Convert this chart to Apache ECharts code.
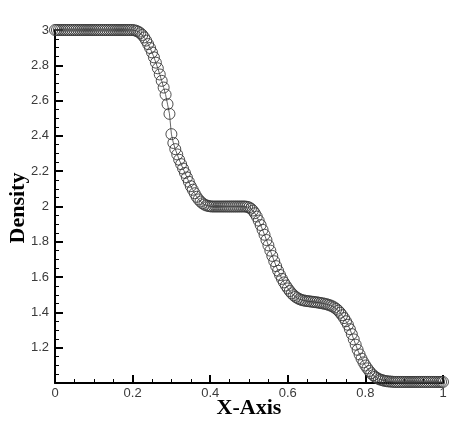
<!DOCTYPE html>
<html>
<head>
<meta charset="utf-8">
<script src="https://cdn.jsdelivr.net/npm/echarts@6/dist/echarts.min.js"></script>
<style>
  html, body { margin: 0; padding: 0; background: #fff; }
  #chart { width: 450px; height: 423px; }
</style>
</head>
<body>
<div id="chart"></div>
<script>
// Grid node positions along the tube
const xPositions = [
  0, 0.005, 0.01, 0.015, 0.02, 0.025, 0.03, 0.035, 0.04, 0.045,
  0.05, 0.055, 0.06, 0.065, 0.07, 0.075, 0.08, 0.085, 0.09, 0.095,
  0.1, 0.105, 0.11, 0.115, 0.12, 0.125, 0.13, 0.135, 0.14, 0.145,
  0.15, 0.155, 0.16, 0.165, 0.17, 0.175, 0.18, 0.185, 0.19, 0.195,
  0.2, 0.205, 0.21, 0.215, 0.22, 0.225, 0.23, 0.235, 0.24, 0.245,
  0.25, 0.255, 0.26, 0.265, 0.27, 0.275, 0.28, 0.285, 0.29, 0.295,
  0.3, 0.305, 0.31, 0.315, 0.32, 0.325, 0.33, 0.335, 0.34, 0.345,
  0.35, 0.355, 0.36, 0.365, 0.37, 0.375, 0.38, 0.385, 0.39, 0.395,
  0.4, 0.405, 0.41, 0.415, 0.42, 0.425, 0.43, 0.435, 0.44, 0.445,
  0.45, 0.455, 0.46, 0.465, 0.47, 0.475, 0.48, 0.485, 0.49, 0.495,
  0.5, 0.505, 0.51, 0.515, 0.52, 0.525, 0.53, 0.535, 0.54, 0.545,
  0.55, 0.555, 0.56, 0.565, 0.57, 0.575, 0.58, 0.585, 0.59, 0.595,
  0.6, 0.605, 0.61, 0.615, 0.62, 0.625, 0.63, 0.635, 0.64, 0.645,
  0.65, 0.655, 0.66, 0.665, 0.67, 0.675, 0.68, 0.685, 0.69, 0.695,
  0.7, 0.705, 0.71, 0.715, 0.72, 0.725, 0.73, 0.735, 0.74, 0.745,
  0.75, 0.755, 0.76, 0.765, 0.77, 0.775, 0.78, 0.785, 0.79, 0.795,
  0.8, 0.805, 0.81, 0.815, 0.82, 0.825, 0.83, 0.835, 0.84, 0.845,
  0.85, 0.855, 0.86, 0.865, 0.87, 0.875, 0.88, 0.885, 0.89, 0.895,
  0.9, 0.905, 0.91, 0.915, 0.92, 0.925, 0.93, 0.935, 0.94, 0.945,
  0.95, 0.955, 0.96, 0.965, 0.97, 0.975, 0.98, 0.985, 0.99, 0.995,
  1
];

// Density at each node
const density = [
  3, 3, 3, 3, 3, 3, 3, 3, 3, 3,
  3, 3, 3, 3, 3, 3, 3, 3, 3, 3,
  3, 3, 3, 3, 3, 3, 3, 3, 3, 3,
  3, 3, 3, 3, 3, 3, 3, 3, 3, 3,
  3, 2.998, 2.995, 2.99, 2.982, 2.972, 2.958, 2.94, 2.92, 2.898,
  2.873, 2.845, 2.815, 2.783, 2.748, 2.712, 2.674, 2.634, 2.58, 2.525,
  2.41, 2.36, 2.325, 2.295, 2.265, 2.24, 2.215, 2.19, 2.165, 2.14,
  2.115, 2.095, 2.075, 2.055, 2.04, 2.028, 2.018, 2.011, 2.006, 2.003,
  2.001, 2, 2, 2, 2, 2, 2, 2, 2, 2,
  2, 2, 2, 2, 2, 2, 2, 2, 2, 1.998,
  1.995, 1.988, 1.977, 1.962, 1.943, 1.92, 1.895, 1.868, 1.84, 1.81,
  1.78, 1.75, 1.72, 1.69, 1.662, 1.636, 1.612, 1.59, 1.57, 1.552,
  1.536, 1.521, 1.508, 1.497, 1.488, 1.481, 1.475, 1.471, 1.468, 1.466,
  1.464, 1.463, 1.461, 1.46, 1.458, 1.457, 1.455, 1.453, 1.451, 1.449,
  1.446, 1.443, 1.439, 1.434, 1.428, 1.42, 1.41, 1.398, 1.384, 1.368,
  1.35, 1.33, 1.305, 1.277, 1.247, 1.217, 1.188, 1.162, 1.138, 1.117,
  1.099, 1.083, 1.068, 1.055, 1.044, 1.035, 1.028, 1.022, 1.018, 1.015,
  1.012, 1.01, 1.009, 1.008, 1.007, 1.006, 1.006, 1.006, 1.006, 1.006,
  1.006, 1.006, 1.006, 1.006, 1.006, 1.006, 1.006, 1.006, 1.006, 1.006,
  1.006, 1.006, 1.006, 1.006, 1.006, 1.006, 1.006, 1.006, 1.006, 1.006,
  1.006
];

const xTicks = [0, 0.2, 0.4, 0.6, 0.8, 1];
const yTicks = [1.2, 1.4, 1.6, 1.8, 2, 2.2, 2.4, 2.6, 2.8, 3];
const xTitle = 'X-Axis';
const yTitle = 'Density';

const points = xPositions.map((x, i) => [x, density[i]]);

const tickFont = { fontFamily: 'Liberation Sans, Arial, sans-serif', fontSize: 13, color: '#3a3a3a' };
const titleFontFamily = 'Liberation Serif, Times New Roman, serif';

const chart = echarts.init(document.getElementById('chart'), null, { renderer: 'canvas' });
chart.setOption({
  animation: false,
  backgroundColor: '#fff',
  grid: { left: 55, top: 30, width: 388, height: 353, containLabel: false, outerBoundsMode: 'none' },
  xAxis: {
    type: 'value',
    min: xTicks[0],
    max: xTicks[xTicks.length - 1],
    interval: 0.2,
    axisLine: { show: true, onZero: false, lineStyle: { color: '#000', width: 2 } },
    axisTick: { show: true, inside: true, length: 8, lineStyle: { color: '#000', width: 2 } },
    minorTick: { show: true, splitNumber: 4, length: 4, lineStyle: { color: '#000', width: 1 } },
    splitLine: { show: false },
    axisLabel: Object.assign({ margin: 4, formatter: v => xTicks.includes(+v.toFixed(3)) ? String(+v.toFixed(3)) : '' }, tickFont)
  },
  yAxis: {
    type: 'value',
    min: 1,
    max: yTicks[yTicks.length - 1],
    interval: 0.2,
    axisLine: { show: true, onZero: false, lineStyle: { color: '#000', width: 2 } },
    axisTick: { show: true, inside: true, length: 8, lineStyle: { color: '#000', width: 2 } },
    minorTick: { show: true, splitNumber: 4, length: 4, lineStyle: { color: '#000', width: 1 } },
    splitLine: { show: false },
    axisLabel: Object.assign({ margin: 6, showMinLabel: false, formatter: v => yTicks.includes(+v.toFixed(3)) ? String(+v.toFixed(3)) : '' }, tickFont)
  },
  // axis titles
  graphic: [
    {
      type: 'text', x: 249, y: 408,
      style: { text: xTitle, font: 'bold 22px ' + titleFontFamily, fill: '#000', align: 'center', verticalAlign: 'middle' }
    },
    {
      type: 'text', x: 18, y: 208, rotation: Math.PI / 2,
      style: { text: yTitle, font: 'bold 22px ' + titleFontFamily, fill: '#000', align: 'center', verticalAlign: 'middle' }
    }
  ],
  series: [{
    type: 'line',
    data: points,
    clip: false,
    showAllSymbol: true,
    symbol: 'circle',
    symbolSize: 11,
    itemStyle: { color: 'rgba(0,0,0,0)', borderColor: '#3a3a3a', borderWidth: 0.9 },
    lineStyle: { color: '#666', width: 1 },
    emphasis: { disabled: true }
  }]
});
</script>
</body>
</html>
